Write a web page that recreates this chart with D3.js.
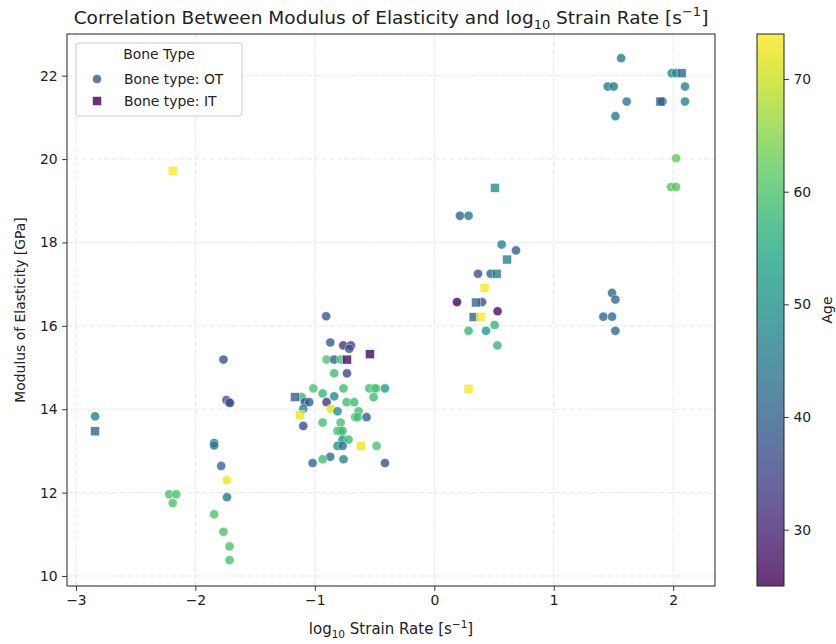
<!DOCTYPE html>
<html>
<head>
<meta charset="utf-8">
<script src="https://cdn.jsdelivr.net/npm/d3@7/dist/d3.min.js"></script>
<style>
  html, body { margin: 0; padding: 0; background: #fff; }
  svg { display: block; font-family: "DejaVu Sans", sans-serif; }
</style>
</head>
<body>
<svg id="chart" width="836" height="644"></svg>
<script>
// Osteonal (OT) bone specimens: log10 strain rate, modulus [GPa], donor age
const otLogRate = [
  -2.84, -2.22, -2.16, -2.19, -1.765, -1.74, -1.72, -1.71, -1.843, -1.843,
  -1.784, -1.736, -1.736, -1.843, -1.765, -1.714, -1.714,
  -0.905, -0.871, -0.762, -0.698, -0.712, -0.902, -0.838, -0.782, -0.838,
  -0.731, -1.013, -0.935, -0.838, -0.760, -0.544, -0.503, -0.488, -0.413,
  -0.508, -1.111, -1.083, -1.047, -1.097, -0.902, -0.866, -0.810, -0.734,
  -0.670, -0.634, -0.662, -0.642, -0.567, -1.097, -0.935, -0.784, -0.810,
  -0.787, -0.768, -0.768, -0.718, -0.810, -0.768, -0.483, -0.871, -0.935,
  -1.019, -0.760, -0.413,
  0.215, 0.287, 0.564, 0.684, 0.366, 0.472, 0.190, 0.400, 0.530, 0.505,
  0.287, 0.433, 0.528,
  1.564, 1.988, 2.024, 1.452, 1.502, 2.099, 1.611, 1.910, 2.099, 1.516,
  2.024, 1.982, 2.024, 1.488, 1.516, 1.415, 1.488, 1.516
];
const otModulus = [
  13.83, 11.96, 11.96, 11.75, 15.19, 14.22, 14.17, 14.15, 13.19, 13.13,
  12.64, 12.30, 11.89, 11.48, 11.06, 10.71, 10.38,
  16.23, 15.60, 15.53, 15.53, 15.45, 15.19, 15.19, 15.19, 14.86,
  14.86, 14.50, 14.38, 14.31, 14.50, 14.50, 14.50, 14.50, 14.50,
  14.29, 14.29, 14.17, 14.17, 14.01, 14.17, 14.01, 13.95, 14.17,
  14.17, 13.95, 13.81, 13.81, 13.81, 13.60, 13.68, 13.68, 13.48,
  13.48, 13.48, 13.27, 13.27, 13.12, 13.12, 13.12, 12.86, 12.80,
  12.71, 12.80, 12.71,
  18.64, 18.64, 17.95, 17.81, 17.25, 17.25, 16.57, 16.57, 16.35, 16.02,
  15.88, 15.88, 15.53,
  22.42, 22.06, 22.06, 21.74, 21.74, 21.74, 21.38, 21.38, 21.38, 21.03,
  20.02, 19.33, 19.33, 16.79, 16.63, 16.22, 16.22, 15.88
];
const otAge = [
  47, 60, 60, 60, 38, 36, 36, 37, 43, 45,
  42, 73, 45, 60, 60, 60, 60,
  39, 40, 33, 34, 37, 60, 40, 60, 59,
  35, 60, 58, 49, 59, 59, 60, 60, 52,
  59, 58, 36, 40, 48, 32, 72, 50, 59,
  59, 59, 59, 59, 40, 36, 59, 60, 58,
  58, 59, 50, 59, 50, 44, 60, 42, 59,
  42, 48, 38,
  40, 45, 47, 40, 37, 40, 26, 38, 27, 58,
  58, 52, 58,
  45, 48, 48, 45, 45, 47, 45, 39, 47, 45,
  62, 61, 61, 42, 42, 42, 42, 42
];

// Interstitial (IT) bone specimens
const itLogRate = [-2.84, -2.19, -0.539, -0.731, -1.167, -1.125, -0.614, 0.508, 0.609, 0.522, 0.421, 0.349, 0.329, 0.388, 0.287, 2.071, 1.893];
const itModulus = [13.47, 19.72, 15.32, 15.19, 14.29, 13.86, 13.12, 19.31, 17.59, 17.25, 16.91, 16.56, 16.21, 16.21, 14.49, 22.06, 21.38];
const itAge     = [41, 74, 26, 27, 40, 73, 73, 49, 47, 46, 74, 41, 41, 74, 74, 42, 40];

const xTicks = [-3, -2, -1, 0, 1, 2];
const yTicks = [10, 12, 14, 16, 18, 20, 22];
const ageTicks = [30, 40, 50, 60, 70];
const ageRange = [25, 74];

const svg = d3.select("#chart");
const plot = { left: 67, right: 715, top: 34, bottom: 586 };

const x = d3.scaleLinear().domain([-3.075, 2.35]).range([plot.left, plot.right]);
const y = d3.scaleLinear().domain([9.76, 23.0]).range([plot.bottom, plot.top]);
const color = d3.scaleSequential(d3.interpolateViridis).domain(ageRange);

// grid
const grid = svg.append("g").attr("stroke", "#d9d9d9").attr("stroke-width", 0.8)
  .attr("stroke-dasharray", "5,2.5").attr("opacity", 0.75);
xTicks.forEach(t => grid.append("line")
  .attr("x1", x(t)).attr("x2", x(t)).attr("y1", plot.top).attr("y2", plot.bottom));
yTicks.forEach(t => grid.append("line")
  .attr("x1", plot.left).attr("x2", plot.right).attr("y1", y(t)).attr("y2", y(t)));

// points
const ot = otLogRate.map((v, i) => ({ x: v, y: otModulus[i], age: otAge[i] }));
const it = itLogRate.map((v, i) => ({ x: v, y: itModulus[i], age: itAge[i] }));

svg.append("g").selectAll("circle").data(ot).join("circle")
  .attr("cx", d => x(d.x)).attr("cy", d => y(d.y)).attr("r", 4.6)
  .attr("fill", d => color(d.age)).attr("stroke", "#fff").attr("stroke-width", 0.5)
  .attr("opacity", 0.8);

const sq = 9;
svg.append("g").selectAll("rect").data(it).join("rect")
  .attr("x", d => x(d.x) - sq / 2).attr("y", d => y(d.y) - sq / 2)
  .attr("width", sq).attr("height", sq)
  .attr("fill", d => color(d.age)).attr("stroke", "#fff").attr("stroke-width", 0.5)
  .attr("opacity", 0.8);

// axes
const xAxis = svg.append("g").attr("transform", `translate(0,${plot.bottom})`)
  .call(d3.axisBottom(x).tickValues(xTicks).tickSize(4.9).tickPadding(4.5)
    .tickFormat(d => d < 0 ? "\u2212" + Math.abs(d) : d));
const yAxis = svg.append("g").attr("transform", `translate(${plot.left},0)`)
  .call(d3.axisLeft(y).tickValues(yTicks).tickSize(4.9).tickPadding(4.5));
[xAxis, yAxis].forEach(a => {
  a.select(".domain").remove();
  a.selectAll("text").attr("font-size", 13.9).attr("fill", "#222").attr("font-family", "DejaVu Sans");
  a.selectAll("line").attr("stroke", "#222").attr("stroke-width", 0.9);
});

// frame
svg.append("rect").attr("x", plot.left).attr("y", plot.top)
  .attr("width", plot.right - plot.left).attr("height", plot.bottom - plot.top)
  .attr("fill", "none").attr("stroke", "#222").attr("stroke-width", 1);

// title
const title = svg.append("text").attr("x", (plot.left + plot.right) / 2).attr("y", 24)
  .attr("text-anchor", "middle").attr("font-size", 18.5).attr("fill", "#222");
title.append("tspan").text("Correlation Between Modulus of Elasticity and log");
title.append("tspan").attr("font-size", 13).attr("dy", 4.5).text("10");
title.append("tspan").attr("dy", -4.5).text(" Strain Rate [s");
title.append("tspan").attr("font-size", 13).attr("dy", -8).text("\u22121");
title.append("tspan").attr("dy", 8).text("]");

// x label
const xl = svg.append("text").attr("x", (plot.left + plot.right) / 2).attr("y", 634)
  .attr("text-anchor", "middle").attr("font-size", 15).attr("fill", "#222");
xl.append("tspan").text("log");
xl.append("tspan").attr("font-size", 10.5).attr("dy", 3.8).text("10");
xl.append("tspan").attr("dy", -3.8).text(" Strain Rate [s");
xl.append("tspan").attr("font-size", 10.5).attr("dy", -6.5).text("\u22121");
xl.append("tspan").attr("dy", 6.5).text("]");

// y label
svg.append("text").attr("transform", `translate(25,${(plot.top + plot.bottom) / 2}) rotate(-90)`)
  .attr("text-anchor", "middle").attr("font-size", 13.9).attr("fill", "#222")
  .text("Modulus of Elasticity [GPa]");

// legend
const lg = svg.append("g").attr("transform", "translate(76,43)");
lg.append("rect").attr("width", 166).attr("height", 73).attr("rx", 3)
  .attr("fill", "#fff").attr("fill-opacity", 0.8).attr("stroke", "#ccc").attr("stroke-width", 1);
lg.append("text").attr("x", 83).attr("y", 16).attr("text-anchor", "middle")
  .attr("font-size", 13.9).attr("fill", "#222").text("Bone Type");
lg.append("circle").attr("cx", 21).attr("cy", 36).attr("r", 4.6)
  .attr("fill", color(otAge[0] - 8)).attr("opacity", 0.8).attr("stroke", "#fff").attr("stroke-width", 0.5);
lg.append("rect").attr("x", 21 - sq / 2).attr("y", 58 - sq / 2).attr("width", sq).attr("height", sq)
  .attr("fill", color(ageRange[0])).attr("opacity", 0.8).attr("stroke", "#fff").attr("stroke-width", 0.5);
lg.append("text").attr("x", 48).attr("y", 41).attr("font-size", 13.9).attr("fill", "#222").text("Bone type: OT");
lg.append("text").attr("x", 48).attr("y", 63).attr("font-size", 13.9).attr("fill", "#222").text("Bone type: IT");

// colorbar
const cb = { x: 757, w: 27, top: plot.top, bottom: plot.bottom };
const cy = d3.scaleLinear().domain(ageRange).range([cb.bottom, cb.top]);
const defs = svg.append("defs");
const grad = defs.append("linearGradient").attr("id", "viridis")
  .attr("x1", 0).attr("y1", 1).attr("x2", 0).attr("y2", 0);
d3.range(0, 1.0001, 0.05).forEach(t => grad.append("stop")
  .attr("offset", t).attr("stop-color", d3.interpolateViridis(t)).attr("stop-opacity", 0.8));
svg.append("rect").attr("x", cb.x).attr("y", cb.top).attr("width", cb.w)
  .attr("height", cb.bottom - cb.top).attr("fill", "url(#viridis)")
  .attr("stroke", "#222").attr("stroke-width", 1);
const cAxis = svg.append("g").attr("transform", `translate(${cb.x + cb.w},0)`)
  .call(d3.axisRight(cy).tickValues(ageTicks).tickSize(4.9).tickPadding(4.5));
cAxis.select(".domain").remove();
cAxis.selectAll("text").attr("font-size", 13.9).attr("fill", "#222").attr("font-family", "DejaVu Sans");
cAxis.selectAll("line").attr("stroke", "#222").attr("stroke-width", 0.9);
svg.append("text").attr("transform", `translate(832,${(cb.top + cb.bottom) / 2}) rotate(-90)`)
  .attr("text-anchor", "middle").attr("font-size", 13.9).attr("fill", "#222").text("Age");
</script>
</body>
</html>
